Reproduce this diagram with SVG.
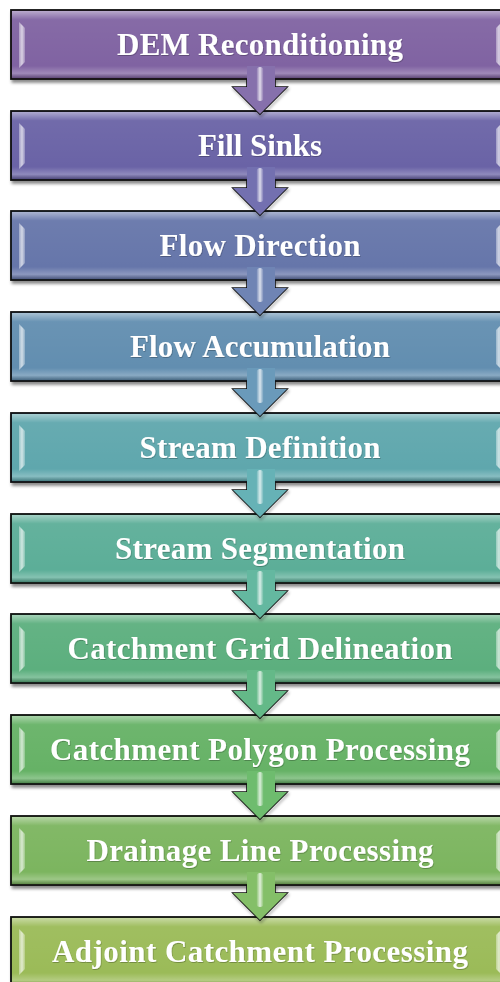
<svg xmlns="http://www.w3.org/2000/svg" width="500" height="982" viewBox="0 0 500 982">
  <style>
    .frame { stroke: #111; stroke-width: 1.8; }
    .gloss { fill: url(#gloss); }
    .label { font-family: "Liberation Serif", "Times New Roman", serif; font-weight: bold; font-size: 31px; fill: #ffffff; text-anchor: middle; filter: url(#textShadow); }
    .bevel { fill: url(#bevelGrad); }
    .arrowEdge { fill: none; stroke: #111; stroke-width: 1.6; stroke-linejoin: miter; }
    .shine { fill: url(#shineGrad); }
  </style>
  <defs>
    <filter id="boxShadow" x="-5%" y="-20%" width="110%" height="150%">
      <feDropShadow dx="1.5" dy="3" stdDeviation="1.8" flood-color="#000" flood-opacity="0.45"/>
    </filter>
    <filter id="textShadow" x="-5%" y="-20%" width="110%" height="150%">
      <feDropShadow dx="0.6" dy="1" stdDeviation="0.7" flood-color="#000" flood-opacity="0.25"/>
    </filter>
    <filter id="arrowShadow" x="-30%" y="-30%" width="160%" height="160%">
      <feDropShadow dx="1" dy="2" stdDeviation="1.5" flood-color="#000" flood-opacity="0.4"/>
    </filter>
    <linearGradient id="gloss" x1="0" y1="0" x2="0" y2="1">
      <stop offset="0" stop-color="#fff" stop-opacity="0.45"/>
      <stop offset="0.13" stop-color="#fff" stop-opacity="0.05"/>
      <stop offset="0.82" stop-color="#fff" stop-opacity="0"/>
      <stop offset="0.93" stop-color="#fff" stop-opacity="0.25"/>
      <stop offset="1" stop-color="#000" stop-opacity="0.25"/>
    </linearGradient>
    <linearGradient id="bevelGrad" x1="0" y1="0" x2="1" y2="0">
      <stop offset="0" stop-color="#fff" stop-opacity="0.35"/>
      <stop offset="0.5" stop-color="#fff" stop-opacity="0.7"/>
      <stop offset="1" stop-color="#fff" stop-opacity="0.25"/>
    </linearGradient>
    <linearGradient id="shineGrad" x1="0" y1="0" x2="1" y2="0">
      <stop offset="0" stop-color="#fff" stop-opacity="0.05"/>
      <stop offset="0.5" stop-color="#fff" stop-opacity="0.75"/>
      <stop offset="1" stop-color="#fff" stop-opacity="0.05"/>
    </linearGradient>
    <!-- side bevel highlights, drawn relative to the box top -->
    <path id="bevelL" class="bevel" d="M19,12 L25,18 L25,52 L19,58 Z"/>
    <path id="bevelR" class="bevel" d="M502,12 L496,18 L496,52 L502,58 Z"/>
    <!-- down arrow, drawn relative to the bottom edge of the upper box -->
    <path id="arrowEdge" class="arrowEdge" filter="url(#arrowShadow)" d="M247,0 L247,8 L233,8 L260,35 L287,8 L275,8 L275,0"/>
    <path id="arrowFill" d="M247,-13 L275,-13 L275,8 L287,8 L260,35 L233,8 L247,8 Z"/>
    <rect id="arrowShine" class="shine" x="256.5" y="-12" width="7" height="34" rx="3.5"/>
  </defs>

  <rect width="500" height="982" fill="#ffffff"/>

  <!-- process boxes -->
  <g id="n1" transform="translate(0,10)">
    <rect class="frame" x="11" y="0" width="498" height="69" fill="#8064A2" filter="url(#boxShadow)"/>
    <rect class="gloss" x="12" y="1" width="496" height="67"/>
    <use href="#bevelL"/><use href="#bevelR"/>
    <text class="label" x="260" y="45" textLength="286">DEM Reconditioning</text>
  </g>
  <g id="n2" transform="translate(0,111)">
    <rect class="frame" x="11" y="0" width="498" height="69" fill="#6B64A6" filter="url(#boxShadow)"/>
    <rect class="gloss" x="12" y="1" width="496" height="67"/>
    <use href="#bevelL"/><use href="#bevelR"/>
    <text class="label" x="260" y="45" textLength="124">Fill Sinks</text>
  </g>
  <g id="n3" transform="translate(0,211)">
    <rect class="frame" x="11" y="0" width="498" height="69" fill="#6676AA" filter="url(#boxShadow)"/>
    <rect class="gloss" x="12" y="1" width="496" height="67"/>
    <use href="#bevelL"/><use href="#bevelR"/>
    <text class="label" x="260" y="45" textLength="201">Flow Direction</text>
  </g>
  <g id="n4" transform="translate(0,312)">
    <rect class="frame" x="11" y="0" width="498" height="69" fill="#628EB0" filter="url(#boxShadow)"/>
    <rect class="gloss" x="12" y="1" width="496" height="67"/>
    <use href="#bevelL"/><use href="#bevelR"/>
    <text class="label" x="260" y="45" textLength="260">Flow Accumulation</text>
  </g>
  <g id="n5" transform="translate(0,413)">
    <rect class="frame" x="11" y="0" width="498" height="69" fill="#5EA7AD" filter="url(#boxShadow)"/>
    <rect class="gloss" x="12" y="1" width="496" height="67"/>
    <use href="#bevelL"/><use href="#bevelR"/>
    <text class="label" x="260" y="45" textLength="241">Stream Definition</text>
  </g>
  <g id="n6" transform="translate(0,514)">
    <rect class="frame" x="11" y="0" width="498" height="69" fill="#5CAE98" filter="url(#boxShadow)"/>
    <rect class="gloss" x="12" y="1" width="496" height="67"/>
    <use href="#bevelL"/><use href="#bevelR"/>
    <text class="label" x="260" y="45" textLength="290">Stream Segmentation</text>
  </g>
  <g id="n7" transform="translate(0,614)">
    <rect class="frame" x="11" y="0" width="498" height="69" fill="#5CAF7E" filter="url(#boxShadow)"/>
    <rect class="gloss" x="12" y="1" width="496" height="67"/>
    <use href="#bevelL"/><use href="#bevelR"/>
    <text class="label" x="260" y="45" textLength="385">Catchment Grid Delineation</text>
  </g>
  <g id="n8" transform="translate(0,715)">
    <rect class="frame" x="11" y="0" width="498" height="69" fill="#66B266" filter="url(#boxShadow)"/>
    <rect class="gloss" x="12" y="1" width="496" height="67"/>
    <use href="#bevelL"/><use href="#bevelR"/>
    <text class="label" x="260" y="45" textLength="420">Catchment Polygon Processing</text>
  </g>
  <g id="n9" transform="translate(0,816)">
    <rect class="frame" x="11" y="0" width="498" height="69" fill="#7BB55F" filter="url(#boxShadow)"/>
    <rect class="gloss" x="12" y="1" width="496" height="67"/>
    <use href="#bevelL"/><use href="#bevelR"/>
    <text class="label" x="260" y="45" textLength="347">Drainage Line Processing</text>
  </g>
  <g id="n10" transform="translate(0,917)">
    <rect class="frame" x="11" y="0" width="498" height="69" fill="#9BBB59" filter="url(#boxShadow)"/>
    <rect class="gloss" x="12" y="1" width="496" height="67"/>
    <use href="#bevelL"/><use href="#bevelR"/>
    <text class="label" x="260" y="45" textLength="416">Adjoint Catchment Processing</text>
  </g>

  <!-- connectors: bevelled down arrows between consecutive boxes -->
  <g id="connectors">
    <g transform="translate(0,79)">
      <use href="#arrowEdge"/><use href="#arrowFill" fill="#8670AC"/><use href="#arrowShine"/>
    </g>
    <g transform="translate(0,180)">
      <use href="#arrowEdge"/><use href="#arrowFill" fill="#7370B0"/><use href="#arrowShine"/>
    </g>
    <g transform="translate(0,280)">
      <use href="#arrowEdge"/><use href="#arrowFill" fill="#6F84B4"/><use href="#arrowShine"/>
    </g>
    <g transform="translate(0,381)">
      <use href="#arrowEdge"/><use href="#arrowFill" fill="#6A9ABA"/><use href="#arrowShine"/>
    </g>
    <g transform="translate(0,482)">
      <use href="#arrowEdge"/><use href="#arrowFill" fill="#66B2B6"/><use href="#arrowShine"/>
    </g>
    <g transform="translate(0,583)">
      <use href="#arrowEdge"/><use href="#arrowFill" fill="#64B8A0"/><use href="#arrowShine"/>
    </g>
    <g transform="translate(0,683)">
      <use href="#arrowEdge"/><use href="#arrowFill" fill="#64B988"/><use href="#arrowShine"/>
    </g>
    <g transform="translate(0,784)">
      <use href="#arrowEdge"/><use href="#arrowFill" fill="#6EBC6E"/><use href="#arrowShine"/>
    </g>
    <g transform="translate(0,885)">
      <use href="#arrowEdge"/><use href="#arrowFill" fill="#84BF68"/><use href="#arrowShine"/>
    </g>
  </g>
</svg>
